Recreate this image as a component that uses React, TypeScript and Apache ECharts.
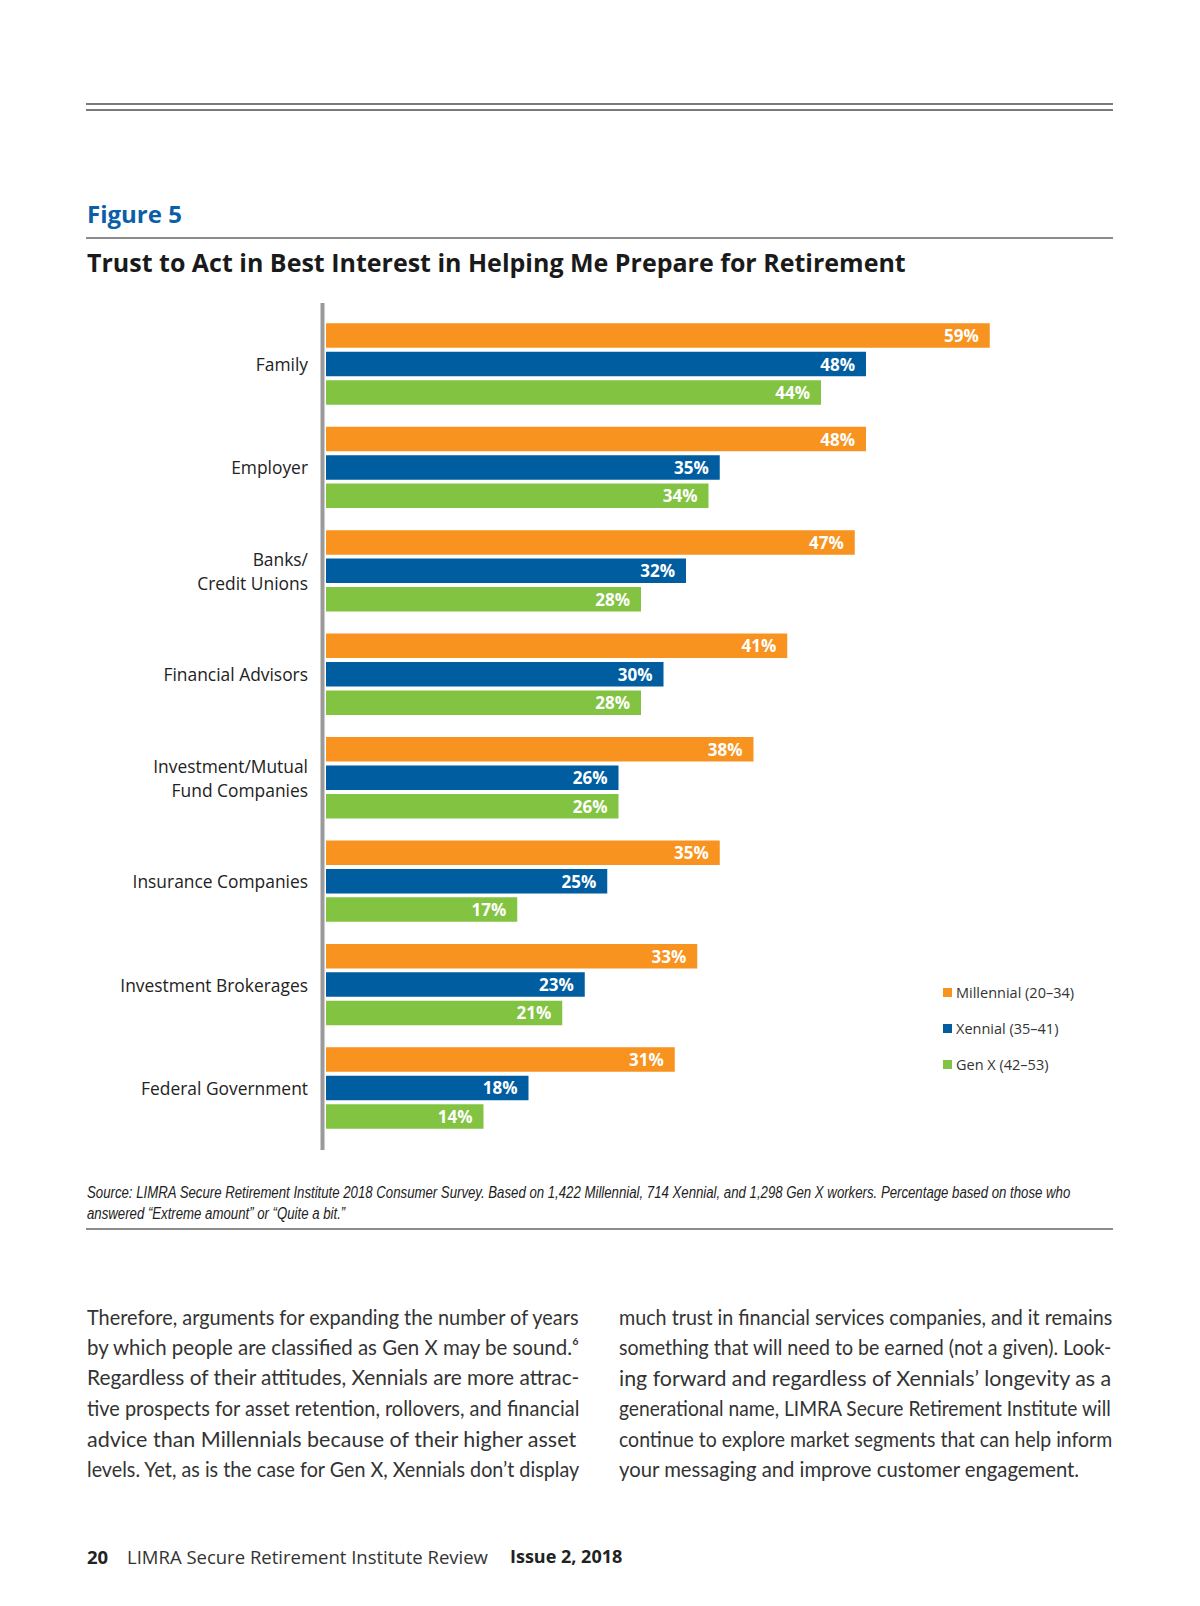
import React, { useEffect, useRef } from "react";
import * as echarts from "echarts";

const categories = [
  "Family",
  "Employer",
  "Banks/\nCredit Unions",
  "Financial Advisors",
  "Investment/Mutual\nFund Companies",
  "Insurance Companies",
  "Investment Brokerages",
  "Federal Government",
];
const seriesNames = ["Millennial (20–34)", "Xennial (35–41)", "Gen X (42–53)"];
const millennial = [59, 48, 47, 41, 38, 35, 33, 31];
const xennial = [48, 35, 32, 30, 26, 25, 23, 18];
const genX = [44, 34, 28, 28, 26, 17, 21, 14];
const colors = ["#F7931E", "#005DA0", "#82C341"];

const figureLabel = "Figure 5";
const titleText = "Trust to Act in Best Interest in Helping Me Prepare for Retirement";
const sourceLines = [
  "Source: LIMRA Secure Retirement Institute 2018 Consumer Survey. Based on 1,422 Millennial, 714 Xennial, and 1,298 Gen X workers. Percentage based on those who",
  "answered “Extreme amount” or “Quite a bit.”",
];
const leftColumn = [
  "Therefore, arguments for expanding the number of years",
  "by which people are classified as Gen X may be sound.⁶",
  "Regardless of their attitudes, Xennials are more attrac-",
  "tive prospects for asset retention, rollovers, and financial",
  "advice than Millennials because of their higher asset",
  "levels. Yet, as is the case for Gen X, Xennials don’t display",
];
const rightColumn = [
  "much trust in financial services companies, and it remains",
  "something that will need to be earned (not a given). Look-",
  "ing forward and regardless of Xennials’ longevity as a",
  "generational name, LIMRA Secure Retirement Institute will",
  "continue to explore market segments that can help inform",
  "your messaging and improve customer engagement.",
];
const footerPage = "20";
const footerPub = "LIMRA Secure Retirement Institute Review";
const footerIssue = "Issue 2, 2018";

function measure(text: string, font: string): number {
  const c = document.createElement("canvas").getContext("2d");
  if (!c) return text.length * 7;
  c.font = font;
  return c.measureText(text).width;
}

export default function App() {
  const ref = useRef<HTMLDivElement>(null);

  useEffect(() => {
    if (!ref.current) return;
    const chart = echarts.init(ref.current, undefined, { renderer: "svg" });

    const srcFont = "italic 16px 'Liberation Sans'";
    const srcW = measure(sourceLines[0], srcFont);
    const srcScale = srcW > 0 ? 985 / srcW : 0.82;

    const bodySize = 20.3;
    const bodyFont = bodySize + "px Lato";
    const lineYs = [1316.5, 1347, 1377.5, 1408, 1438.5, 1469];
    const bodyTexts: any[] = [];
    const addColumn = (lines: string[], x0: number, lastJustified: boolean) => {
      lines.forEach((t, i) => {
        const justify = i < lines.length - 1 || lastJustified;
        const w = measure(t, bodyFont);
        const sx = justify && w > 0 ? Math.min(1.06, Math.max(0.94, 493 / w)) : 1;
        bodyTexts.push({
          type: "text",
          x: x0,
          y: lineYs[i],
          scaleX: sx,
          style: {
            text: t,
            x: 0,
            y: 0,
            fill: "#333333",
            fontSize: bodySize,
            fontFamily: "Lato",
            verticalAlign: "middle",
            align: "left",
          },
        });
      });
    };
    addColumn(leftColumn, 87, true);
    addColumn(rightColumn, 619, false);

    const labelStyle = {
      show: true,
      position: "insideRight",
      distance: 11,
      formatter: "{c}%",
      color: "#ffffff",
      fontWeight: "bold",
      fontSize: 17,
      fontFamily: "Open Sans",
    };

    const dataSets = [millennial, xennial, genX];

    chart.setOption({
      animation: false,
      backgroundColor: "#ffffff",
      grid: { left: 326, top: 312.3, width: 675, height: 827.4, containLabel: false },
      xAxis: {
        type: "value",
        min: 0,
        max: 60,
        show: false,
      },
      yAxis: {
        type: "category",
        data: categories,
        inverse: true,
        axisLine: { show: false },
        axisTick: { show: false },
        splitLine: { show: false },
        axisLabel: {
          margin: 18,
          fontSize: 17.4,
          fontFamily: "Open Sans",
          color: "#222222",
          lineHeight: 24,
          align: "right",
        },
      },
      legend: {
        data: seriesNames,
        orient: "vertical",
        left: 938,
        top: 980,
        itemWidth: 9,
        itemHeight: 9,
        itemGap: 21,
        icon: "rect",
        selectedMode: false,
        textStyle: { fontSize: 14.5, fontFamily: "Open Sans", color: "#333333", padding: [0, 0, 0, -1] },
      },
      series: dataSets.map((d, i) => ({
        type: "bar",
        name: seriesNames[i],
        data: d,
        barWidth: 24.5,
        barGap: "16%",
        itemStyle: { color: colors[i] },
        label: labelStyle,
      })),
      graphic: [
        { type: "line", shape: { x1: 86, y1: 104, x2: 1113, y2: 104 }, style: { stroke: "#7a7a7a", lineWidth: 2 } },
        { type: "line", shape: { x1: 86, y1: 110, x2: 1113, y2: 110 }, style: { stroke: "#7a7a7a", lineWidth: 2 } },
        {
          type: "text",
          x: 87,
          y: 213,
          style: {
            text: figureLabel,
            fill: "#0B5EA8",
            fontSize: 24,
            fontWeight: "bold",
            fontFamily: "Open Sans",
            verticalAlign: "middle",
          },
        },
        { type: "line", shape: { x1: 86, y1: 238, x2: 1113, y2: 238 }, style: { stroke: "#666666", lineWidth: 1.6 } },
        {
          type: "text",
          x: 87,
          y: 262,
          style: {
            text: titleText,
            fill: "#1a1a1a",
            fontSize: 25,
            fontWeight: "bold",
            fontFamily: "Open Sans",
            verticalAlign: "middle",
          },
        },
        { type: "line", shape: { x1: 322.5, y1: 303, x2: 322.5, y2: 1150 }, style: { stroke: "#9a9a9a", lineWidth: 4 } },
        ...sourceLines.map((t, i) => ({
          type: "text",
          x: 87,
          y: 1193 + i * 20.5,
          scaleX: srcScale,
          style: {
            text: t,
            x: 0,
            y: 0,
            fill: "#222222",
            fontSize: 16,
            fontStyle: "italic",
            fontFamily: "Liberation Sans",
            verticalAlign: "middle",
          },
        })),
        { type: "line", shape: { x1: 86, y1: 1229, x2: 1113, y2: 1229 }, style: { stroke: "#666666", lineWidth: 1.6 } },
        ...bodyTexts,
        {
          type: "text",
          x: 87,
          y: 1556,
          style: { text: footerPage, fill: "#222222", fontSize: 18.5, fontWeight: "bold", fontFamily: "Open Sans", verticalAlign: "middle" },
        },
        {
          type: "text",
          x: 127,
          y: 1556,
          style: { text: footerPub, fill: "#333333", fontSize: 18.5, fontFamily: "Open Sans", verticalAlign: "middle" },
        },
        {
          type: "text",
          x: 510,
          y: 1556,
          style: { text: footerIssue, fill: "#222222", fontSize: 18, fontWeight: "bold", fontFamily: "Open Sans", verticalAlign: "middle" },
        },
      ],
    });

    return () => chart.dispose();
  }, []);

  return (
    <div
      ref={ref}
      style={{ position: "absolute", left: 0, top: 0, width: 1200, height: 1606, background: "#ffffff" }}
    />
  );
}
